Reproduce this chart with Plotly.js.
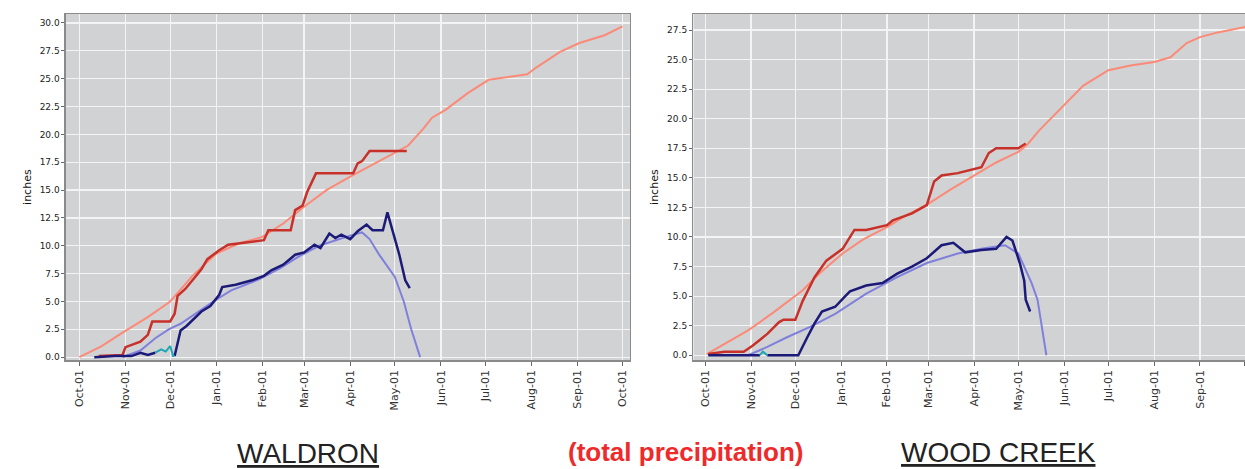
<!DOCTYPE html>
<html>
<head>
<meta charset="utf-8">
<script src="https://cdn.plot.ly/plotly-3.0.1.min.js"></script>
<style>
html,body{margin:0;padding:0;background:#ffffff;}
#chart{width:1245px;height:469px;}
</style>
</head>
<body>
<div id="chart"></div>
<script>
// ---------- WALDRON ----------
const waldronNormalPrecipDates = ["2000-10-01","2000-10-16","2000-10-30","2000-11-16","2000-12-01","2000-12-16","2001-01-01","2001-01-16","2001-02-01","2001-02-15","2001-03-01","2001-03-16","2001-04-01","2001-04-16","2001-05-01","2001-05-10","2001-05-20","2001-05-26","2001-06-04","2001-06-19","2001-07-03","2001-07-15","2001-07-29","2001-08-04","2001-08-10","2001-08-20","2001-09-02","2001-09-19","2001-10-01"];
const waldronNormalPrecip = [0.0,1.0,2.2,3.6,5.0,7.3,9.3,10.2,10.8,12.0,13.5,15.0,16.2,17.3,18.4,19.0,20.5,21.5,22.2,23.7,24.9,25.1,25.4,26.0,26.5,27.4,28.2,28.9,29.7];

const waldronPrecipDates = ["2000-10-14","2000-10-30","2000-11-01","2000-11-11","2000-11-16","2000-11-19","2000-12-01","2000-12-04","2000-12-06","2000-12-11","2000-12-16","2000-12-22","2000-12-26","2001-01-03","2001-01-09","2001-01-22","2001-02-02","2001-02-05","2001-02-20","2001-02-23","2001-02-28","2001-03-03","2001-03-09","2001-04-03","2001-04-06","2001-04-09","2001-04-14","2001-05-09"];
const waldronPrecip = [0.1,0.2,0.9,1.4,2.0,3.2,3.2,3.9,5.5,6.1,6.9,7.9,8.8,9.6,10.1,10.3,10.5,11.4,11.4,13.2,13.6,14.8,16.5,16.5,17.4,17.6,18.5,18.5];

const waldronMedianSweDates = ["2000-10-30","2000-11-11","2000-11-21","2000-11-30","2000-12-08","2000-12-19","2000-12-30","2001-01-11","2001-01-30","2001-02-13","2001-02-25","2001-03-11","2001-03-22","2001-04-03","2001-04-09","2001-04-14","2001-04-20","2001-04-26","2001-05-01","2001-05-07","2001-05-12","2001-05-18"];
const waldronMedianSwe = [0.0,0.6,1.7,2.5,3.0,4.0,5.0,6.0,7.0,8.0,9.0,10.0,10.5,11.0,11.2,10.6,9.3,8.2,7.2,5.0,2.5,0.0];

const waldronSweDates = ["2000-10-11","2000-10-25","2000-11-05","2000-11-11","2000-11-16","2000-11-21",null,"2000-12-04","2000-12-08","2000-12-12","2000-12-16","2000-12-22","2000-12-28","2001-01-03","2001-01-05","2001-01-14","2001-01-25","2001-02-02","2001-02-07","2001-02-15","2001-02-23","2001-03-01","2001-03-08","2001-03-12","2001-03-18","2001-03-22","2001-03-26","2001-04-01","2001-04-06","2001-04-12","2001-04-16","2001-04-23","2001-04-26","2001-04-29","2001-05-04","2001-05-08","2001-05-11"];
const waldronSwe = [0.0,0.1,0.1,0.4,0.2,0.4,null,0.1,2.4,2.8,3.3,4.1,4.6,5.6,6.3,6.5,6.9,7.3,7.8,8.3,9.2,9.4,10.1,9.8,11.1,10.7,11.0,10.6,11.3,11.9,11.4,11.4,13.0,11.6,9.2,6.9,6.2];

const waldronEarlySweDates = ["2000-11-21","2000-11-25","2000-11-28","2000-12-01","2000-12-03","2000-12-04"];
const waldronEarlySwe = [0.4,0.7,0.5,1.0,0.1,0.1];

// ---------- WOOD CREEK ----------
const woodNormalPrecipDates = ["2000-10-02","2000-10-16","2000-10-30","2000-11-16","2000-12-06","2000-12-18","2001-01-02","2001-01-16","2001-02-02","2001-02-15","2001-03-01","2001-03-16","2001-04-01","2001-04-16","2001-05-01","2001-05-07","2001-05-15","2001-05-31","2001-06-14","2001-07-01","2001-07-16","2001-08-01","2001-08-12","2001-08-23","2001-09-01","2001-09-13","2001-09-30","2001-10-03"];
const woodNormalPrecip = [0.1,1.1,2.1,3.6,5.5,7.0,8.6,9.8,10.9,11.9,12.8,14.0,15.2,16.3,17.2,17.8,19.0,21.0,22.8,24.1,24.5,24.8,25.2,26.4,26.9,27.3,27.7,27.8];

const woodPrecipDates = ["2000-10-03","2000-10-14","2000-10-27","2000-11-02","2000-11-12","2000-11-20","2000-11-23","2000-12-01","2000-12-06","2000-12-14","2000-12-22","2001-01-02","2001-01-10","2001-01-18","2001-02-01","2001-02-05","2001-02-18","2001-02-28","2001-03-05","2001-03-10","2001-03-21","2001-04-06","2001-04-11","2001-04-16","2001-05-01","2001-05-06"];
const woodPrecip = [0.1,0.3,0.3,0.8,1.8,2.8,3.0,3.0,4.6,6.6,8.0,9.0,10.6,10.6,11.0,11.4,12.0,12.7,14.7,15.2,15.4,15.9,17.1,17.5,17.5,17.9];

const woodMedianSweDates = ["2000-10-30","2000-11-12","2000-11-25","2000-12-11","2000-12-28","2001-01-18","2001-02-08","2001-02-28","2001-03-21","2001-04-06","2001-04-22","2001-05-01","2001-05-05","2001-05-10","2001-05-14","2001-05-18","2001-05-20"];
const woodMedianSwe = [0.0,0.7,1.5,2.4,3.5,5.2,6.6,7.8,8.6,9.0,9.3,8.6,7.5,6.1,4.7,1.8,0.0];

const woodSweDates = ["2000-10-03","2000-11-07",null,"2000-11-12","2000-12-03","2000-12-09","2000-12-14","2000-12-19","2000-12-28","2001-01-03","2001-01-07","2001-01-18","2001-01-29","2001-02-08","2001-02-18","2001-02-28","2001-03-10","2001-03-18","2001-03-26","2001-04-06","2001-04-16","2001-04-23","2001-04-27","2001-05-02","2001-05-05","2001-05-06","2001-05-09"];
const woodSwe = [0.0,0.0,null,0.0,0.0,1.5,2.7,3.7,4.1,4.9,5.4,5.9,6.1,6.9,7.5,8.2,9.3,9.5,8.7,8.9,9.0,10.0,9.7,7.8,6.3,4.7,3.7];

const woodEarlySweDates = ["2000-11-07","2000-11-09","2000-11-10","2000-11-12"];
const woodEarlySwe = [0.0,0.3,0.2,0.0];

// ---------- labels ----------
const leftLabel = "WALDRON";
const centerLabel = "(total precipitation)";
const rightLabel = "WOOD CREEK";
const yTitle = "inches";

const C_NORMAL = "#fb8a78";
const C_PRECIP = "#c8302a";
const C_MEDSWE = "#8080dc";
const C_SWE = "#1c1a78";
const C_EARLY = "#1ea6b4";

function tr(x, y, color, width, xa, ya) {
  return {x: x, y: y, type: "scatter", mode: "lines", xaxis: xa, yaxis: ya,
    line: {color: color, width: width}, connectgaps: false, hoverinfo: "skip", showlegend: false};
}

const traces = [
  tr(waldronNormalPrecipDates, waldronNormalPrecip, C_NORMAL, 2, "x", "y"),
  tr(waldronPrecipDates, waldronPrecip, C_PRECIP, 2.5, "x", "y"),
  tr(waldronMedianSweDates, waldronMedianSwe, C_MEDSWE, 2, "x", "y"),
  tr(waldronSweDates, waldronSwe, C_SWE, 2.5, "x", "y"),
  tr(waldronEarlySweDates, waldronEarlySwe, C_EARLY, 2, "x", "y"),
  tr(woodNormalPrecipDates, woodNormalPrecip, C_NORMAL, 2, "x2", "y2"),
  tr(woodPrecipDates, woodPrecip, C_PRECIP, 2.5, "x2", "y2"),
  tr(woodMedianSweDates, woodMedianSwe, C_MEDSWE, 2, "x2", "y2"),
  tr(woodSweDates, woodSwe, C_SWE, 2.5, "x2", "y2"),
  tr(woodEarlySweDates, woodEarlySwe, C_EARLY, 2, "x2", "y2")
];

const xCommon = {
  type: "date", dtick: "M1", tick0: "2000-10-01", tickformat: "%b-%d",
  tickangle: -90, showgrid: true, gridcolor: "#f4f4f4", gridwidth: 1.2,
  ticks: "outside", ticklen: 4, tickcolor: "#666",
  tickfont: {family: "DejaVu Sans, sans-serif", size: 11, color: "#333"},
  showline: true, linecolor: "#8a8a8a", linewidth: 1.5, mirror: true, zeroline: false,
  anchor: null
};
const yCommon = {
  dtick: 2.5, tickformat: ".1f", showgrid: true, gridcolor: "#f4f4f4", gridwidth: 1.2,
  ticks: "outside", ticklen: 3, tickcolor: "#666",
  tickfont: {family: "DejaVu Sans, sans-serif", size: 9, color: "#222"},
  showline: true, linecolor: "#8a8a8a", linewidth: 1.5, mirror: true, zeroline: false,
  title: {text: yTitle, font: {family: "DejaVu Sans, sans-serif", size: 11, color: "#111"}, standoff: 6}
};

const layout = {
  width: 1245, height: 469,
  margin: {l: 0, r: 0, t: 0, b: 0},
  paper_bgcolor: "#ffffff",
  plot_bgcolor: "#d0d2d3",
  showlegend: false,
  xaxis: Object.assign({}, xCommon, {domain: [0.053, 0.506], anchor: "y",
    range: ["2000-09-22", "2001-10-06"]}),
  yaxis: Object.assign({}, yCommon, {domain: [0.232, 0.970], anchor: "x", range: [-0.27, 30.8]}),
  xaxis2: Object.assign({}, xCommon, {domain: [0.557, 1.0], anchor: "y2",
    range: ["2000-09-23", "2001-10-01 12:00"]}),
  yaxis2: Object.assign({}, yCommon, {domain: [0.232, 0.970], anchor: "x2", range: [-0.42, 28.85]}),
  annotations: [
    {text: "<u>" + leftLabel + "</u>", xref: "paper", yref: "paper", x: 308 / 1245, y: 1 - 453 / 469,
      showarrow: false, xanchor: "center", yanchor: "middle",
      font: {family: "Liberation Sans Narrow, Arial Narrow, Liberation Sans, Arial, sans-serif", size: 28, color: "#222"}},
    {text: "<b>" + centerLabel + "</b>", xref: "paper", yref: "paper", x: 686 / 1245, y: 1 - 452 / 469,
      showarrow: false, xanchor: "center", yanchor: "middle",
      font: {family: "Liberation Sans Narrow, Arial Narrow, Liberation Sans, Arial, sans-serif", size: 26, color: "#ee2a2a"}},
    {text: "<u>" + rightLabel + "</u>", xref: "paper", yref: "paper", x: 998 / 1245, y: 1 - 452 / 469,
      showarrow: false, xanchor: "center", yanchor: "middle",
      font: {family: "Liberation Sans Narrow, Arial Narrow, Liberation Sans, Arial, sans-serif", size: 28, color: "#222"}}
  ]
};

Plotly.newPlot("chart", traces, layout, {staticPlot: true, displayModeBar: false});
</script>
</body>
</html>
